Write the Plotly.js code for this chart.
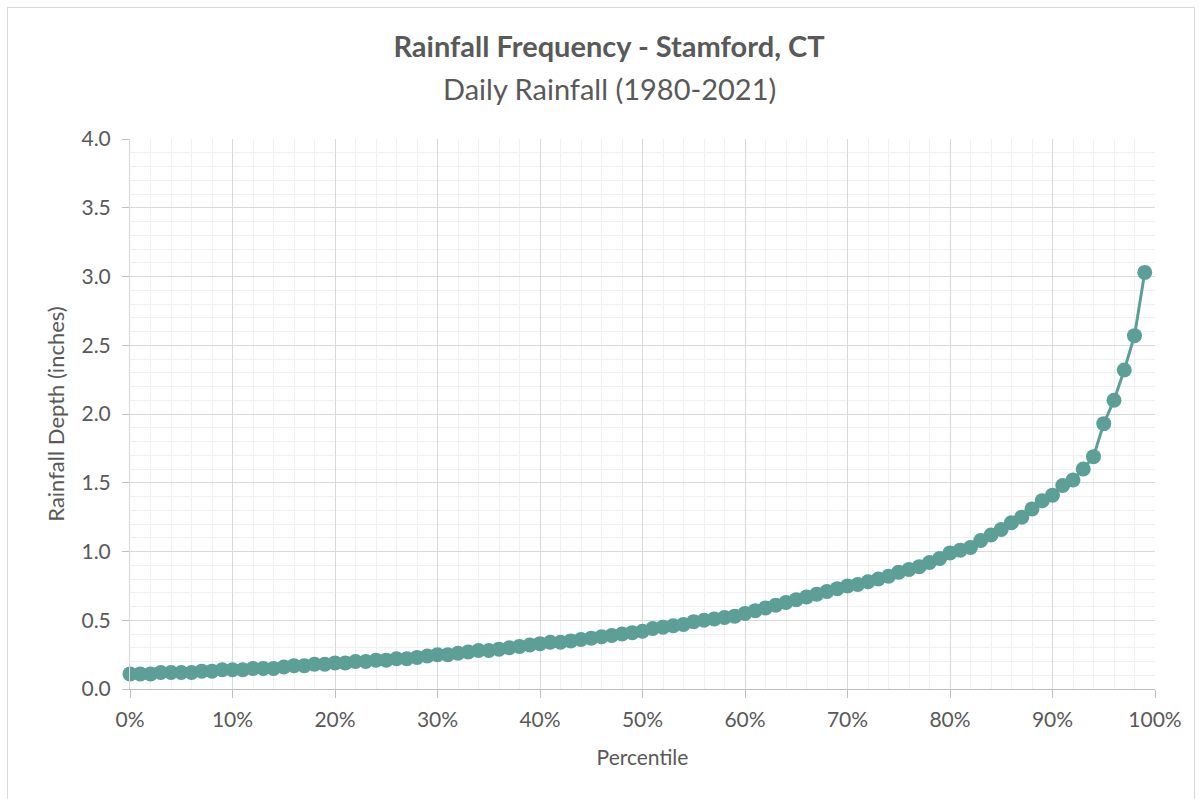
<!DOCTYPE html>
<html>
<head>
<meta charset="utf-8">
<script src="https://cdn.plot.ly/plotly-3.0.1.min.js"></script>
<style>
  html, body { margin: 0; padding: 0; background: #ffffff; overflow: hidden; }
  #frame { position: absolute; left: 7px; top: 7px; width: 1188px; height: 800px; border: 1px solid #d9d9d9; box-sizing: border-box; }
  #chart { position: absolute; left: 0; top: 0; width: 1202px; height: 799px; }
</style>
</head>
<body>
<div id="frame"></div>
<div id="chart"></div>
<script>
// Percentile (%) of daily rainfall
const percentiles = [
  0, 1, 2, 3, 4, 5, 6, 7, 8, 9,
  10, 11, 12, 13, 14, 15, 16, 17, 18, 19,
  20, 21, 22, 23, 24, 25, 26, 27, 28, 29,
  30, 31, 32, 33, 34, 35, 36, 37, 38, 39,
  40, 41, 42, 43, 44, 45, 46, 47, 48, 49,
  50, 51, 52, 53, 54, 55, 56, 57, 58, 59,
  60, 61, 62, 63, 64, 65, 66, 67, 68, 69,
  70, 71, 72, 73, 74, 75, 76, 77, 78, 79,
  80, 81, 82, 83, 84, 85, 86, 87, 88, 89,
  90, 91, 92, 93, 94, 95, 96, 97, 98, 99
];
// Rainfall depth (inches)
const rainfallDepth = [
  0.11, 0.11, 0.11, 0.12, 0.12, 0.12, 0.12, 0.13, 0.13, 0.14,
  0.14, 0.14, 0.15, 0.15, 0.15, 0.16, 0.17, 0.17, 0.18, 0.18,
  0.19, 0.19, 0.20, 0.20, 0.21, 0.21, 0.22, 0.22, 0.23, 0.24,
  0.25, 0.25, 0.26, 0.27, 0.28, 0.28, 0.29, 0.30, 0.31, 0.32,
  0.33, 0.34, 0.34, 0.35, 0.36, 0.37, 0.38, 0.39, 0.40, 0.41,
  0.42, 0.44, 0.45, 0.46, 0.47, 0.49, 0.50, 0.51, 0.52, 0.53,
  0.55, 0.57, 0.59, 0.61, 0.63, 0.65, 0.67, 0.69, 0.71, 0.73,
  0.75, 0.76, 0.78, 0.80, 0.82, 0.85, 0.87, 0.89, 0.92, 0.95,
  0.99, 1.01, 1.03, 1.08, 1.12, 1.16, 1.21, 1.25, 1.31, 1.37,
  1.41, 1.48, 1.52, 1.60, 1.69, 1.93, 2.10, 2.32, 2.57, 3.03
];
const chartTitle = 'Rainfall Frequency - Stamford, CT';
const chartSubtitle = 'Daily Rainfall (1980-2021)';
const xTitle = 'Percentile';
const yTitle = 'Rainfall Depth (inches)';

const FONT = 'Lato, "Open Sans", "Noto Sans", sans-serif';
const TEXT = '#595959';
const TEAL = '#5b9f97';

const trace = {
  type: 'scatter',
  mode: 'lines+markers',
  x: percentiles,
  y: rainfallDepth,
  line: { color: TEAL, width: 3 },
  marker: { color: TEAL, size: 15 },
  cliponaxis: false,
  hoverinfo: 'x+y'
};

const layout = {
  width: 1202,
  height: 799,
  margin: { l: 130, r: 47, t: 139, b: 109.5 },
  paper_bgcolor: 'rgba(0,0,0,0)',
  plot_bgcolor: '#ffffff',
  showlegend: false,
  font: { family: FONT, color: TEXT, size: 20 },
  title: {
    text: '<b>' + chartTitle + '</b>',
    font: { family: FONT, size: 29, color: TEXT },
    x: 609 / 1202, xref: 'container', xanchor: 'center',
    y: 1 - 47 / 799, yref: 'container', yanchor: 'middle'
  },
  annotations: [{
    text: chartSubtitle,
    xref: 'paper', yref: 'paper',
    x: (609 - 130) / 1025, y: (689.5 - 88) / 550.5,
    xanchor: 'center', yanchor: 'middle',
    showarrow: false,
    font: { family: FONT, size: 29, color: TEXT }
  }],
  xaxis: {
    range: [0, 100],
    dtick: 10,
    tick0: 0,
    ticksuffix: '%',
    ticks: 'outside',
    ticklen: 8,
    tickcolor: '#bfbfbf',
    ticklabelstandoff: 4,
    tickfont: { size: 21, color: TEXT },
    showgrid: true,
    gridcolor: '#d9d9d9',
    gridwidth: 1,
    showline: true,
    linecolor: '#bfbfbf',
    zeroline: false,
    minor: { dtick: 2, showgrid: true, gridcolor: '#f0f0f0', gridwidth: 1, ticks: '' },
    title: { text: xTitle, font: { size: 21, color: TEXT }, standoff: 20 },
    fixedrange: true
  },
  yaxis: {
    range: [0, 4],
    dtick: 0.5,
    tick0: 0,
    tickformat: '.1f',
    ticks: 'outside',
    ticklen: 7,
    tickcolor: '#bfbfbf',
    ticklabelstandoff: 7,
    tickfont: { size: 21, color: TEXT },
    showgrid: true,
    gridcolor: '#d9d9d9',
    gridwidth: 1,
    showline: true,
    linecolor: '#d9d9d9',
    zeroline: false,
    minor: { dtick: 0.1, showgrid: true, gridcolor: '#f0f0f0', gridwidth: 1, ticks: '' },
    title: { text: yTitle, font: { size: 22, color: TEXT }, standoff: 10 },
    fixedrange: true
  }
};

Plotly.newPlot('chart', [trace], layout, { displayModeBar: false, staticPlot: true });
</script>
</body>
</html>
